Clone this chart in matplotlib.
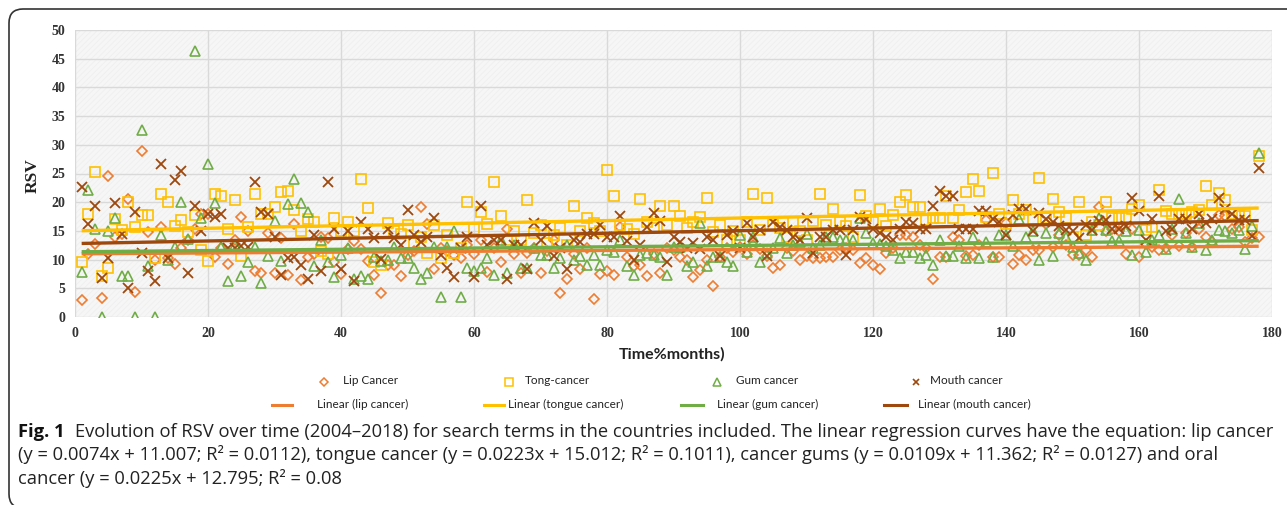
import numpy as np
import matplotlib
matplotlib.use('Agg')
import matplotlib.pyplot as plt
from matplotlib.lines import Line2D
from matplotlib.patches import FancyBboxPatch, Rectangle

# monthly RSV values (months 1..178)
months = np.arange(1, 179)

lip = [
    3.0, 11.0, 12.7, 3.3, 24.5, 14.0, 14.5, 20.6, 4.3, 29.0,
    14.8, 10.0, 15.6, 10.2, 9.2, 12.0, 13.5, 15.3, 18.0, 18.0,
    10.5, 12.0, 9.2, 13.5, 17.4, 15.0, 8.0, 7.7, 14.7, 7.6,
    13.8, 7.4, 16.2, 6.5, 10.4, 11.0, 14.0, 13.8, 9.6, 7.5,
    11.8, 13.2, 11.8, 9.7, 7.3, 4.1, 9.0, 9.1, 7.2, 10.8,
    11.5, 19.1, 16.2, 8.3, 12.0, 11.5, 10.8, 10.2, 12.5, 11.0,
    13.4, 7.9, 12.0, 9.6, 15.4, 11.0, 7.6, 11.2, 12.0, 7.6,
    11.5, 13.4, 4.2, 6.7, 11.0, 8.3, 12.0, 3.2, 7.5, 8.1,
    7.3, 15.7, 10.4, 8.8, 9.1, 7.2, 11.0, 7.6, 12.0, 11.7,
    10.4, 10.0, 7.0, 8.2, 9.9, 5.4, 10.5, 12.0, 11.4, 12.2,
    11.0, 12.5, 11.8, 10.6, 8.5, 9.1, 12.0, 11.5, 10.0, 10.6,
    10.2, 10.2, 10.5, 10.4, 11.7, 12.0, 11.6, 9.4, 10.2, 9.1,
    8.3, 11.1, 12.0, 14.3, 14.3, 13.9, 12.5, 12.0, 6.6, 10.5,
    10.5, 13.9, 13.5, 10.6, 10.8, 12.5, 16.9, 10.4, 10.4, 16.3,
    9.3, 10.8, 9.9, 11.6, 11.6, 16.2, 12.2, 14.3, 12.5, 10.8,
    10.8, 11.7, 10.4, 19.1, 15.0, 15.4, 15.0, 10.9, 15.4, 10.4,
    12.7, 12.2, 11.6, 12.0, 14.3, 12.4, 14.6, 12.2, 15.4, 13.9,
    13.1, 17.8, 17.6, 15.4, 15.7, 13.1, 13.7, 14.0]

tongue = [
    9.5, 18.0, 25.3, 7.2, 8.6, 17.0, 15.2, 20.0, 15.7, 17.8,
    17.8, 10.3, 21.5, 20.0, 15.9, 16.9, 14.8, 17.8, 11.7, 9.7,
    21.4, 21.0, 15.3, 20.3, 10.7, 15.7, 21.5, 18.0, 18.0, 19.1,
    21.8, 22.0, 18.7, 15.0, 17.0, 16.6, 11.5, 11.0, 17.3, 15.0,
    16.6, 15.0, 24.0, 19.0, 9.5, 9.1, 16.3, 15.0, 14.5, 16.0,
    12.9, 13.9, 11.1, 16.0, 10.3, 14.2, 11.1, 12.0, 20.0, 15.4,
    18.3, 16.2, 23.5, 17.6, 13.4, 15.0, 13.4, 20.3, 14.7, 16.0,
    12.9, 14.2, 15.5, 12.5, 19.3, 15.0, 17.2, 16.4, 15.0, 25.6,
    21.0, 16.0, 15.4, 14.5, 20.6, 16.5, 15.5, 19.3, 16.1, 19.4,
    17.6, 15.5, 16.6, 17.5, 20.7, 14.8, 16.0, 13.5, 15.0, 13.4,
    16.5, 21.4, 15.1, 20.7, 16.0, 15.5, 13.9, 16.5, 15.0, 13.4,
    16.8, 21.4, 16.0, 18.9, 16.6, 15.8, 14.0, 21.2, 17.6, 16.5,
    18.9, 15.8, 17.8, 20.1, 21.2, 19.1, 19.1, 16.9, 17.2, 17.2,
    21.0, 17.2, 18.6, 21.7, 24.1, 21.9, 17.4, 25.1, 18.0, 16.2,
    20.4, 18.0, 18.6, 17.0, 24.3, 17.2, 20.5, 18.3, 17.3, 13.9,
    20.1, 14.3, 16.6, 16.0, 20.1, 17.2, 17.2, 17.2, 18.8, 19.5,
    15.2, 15.6, 22.2, 18.5, 18.0, 18.0, 18.0, 18.3, 18.7, 22.8,
    19.5, 21.6, 20.3, 18.0, 17.6, 17.6, 15.2, 28.0]

gum = [
    7.8, 22.1, 15.3, 0.0, 14.9, 17.3, 7.2, 7.2, 0.0, 32.5,
    8.9, 0.0, 14.3, 10.0, 12.2, 20.0, 13.6, 46.4, 17.3, 26.7,
    19.8, 12.2, 6.2, 12.5, 7.1, 9.5, 12.2, 5.9, 10.6, 16.7,
    9.7, 19.6, 24.1, 19.9, 18.3, 8.8, 13.5, 9.6, 6.9, 10.8,
    12.1, 6.6, 7.1, 6.6, 10.5, 9.8, 10.0, 12.2, 10.2, 10.2,
    8.6, 6.6, 7.7, 12.2, 3.5, 12.2, 15.0, 3.5, 8.6, 8.0,
    8.6, 10.2, 7.3, 13.4, 7.7, 12.5, 8.6, 8.6, 12.0, 10.8,
    10.8, 8.6, 10.2, 12.5, 9.9, 10.6, 9.1, 10.8, 9.1, 11.6,
    11.4, 13.5, 8.9, 7.3, 10.8, 11.1, 10.8, 10.5, 7.3, 12.2,
    12.2, 8.9, 9.6, 16.3, 8.9, 10.5, 10.5, 9.6, 8.9, 14.2,
    11.4, 14.0, 9.5, 11.1, 12.0, 13.7, 11.1, 12.5, 13.0, 14.5,
    12.0, 12.5, 13.9, 13.9, 13.4, 13.4, 13.4, 17.2, 14.6, 12.9,
    12.7, 12.4, 11.7, 10.2, 11.4, 11.4, 10.2, 10.8, 9.1, 13.5,
    10.6, 10.6, 12.4, 10.2, 13.9, 10.2, 13.1, 10.5, 14.3, 14.3,
    12.4, 17.0, 14.0, 14.9, 9.9, 14.6, 10.6, 14.6, 13.9, 12.2,
    11.1, 9.9, 15.2, 17.2, 15.2, 13.3, 13.3, 14.9, 10.8, 15.2,
    11.4, 13.4, 14.3, 11.9, 15.3, 20.6, 14.6, 12.2, 16.4, 11.7,
    13.4, 15.2, 15.0, 14.6, 15.2, 11.9, 15.8, 28.6]

mouth = [
    22.7, 16.2, 19.3, 6.8, 10.3, 19.9, 14.4, 5.0, 18.3, 11.2,
    8.1, 6.2, 26.6, 10.2, 23.9, 25.5, 7.7, 19.3, 14.9, 18.0,
    17.4, 18.0, 12.0, 12.0, 12.4, 12.2, 23.5, 18.3, 18.0, 14.0,
    7.3, 10.3, 10.5, 9.0, 6.7, 14.3, 8.0, 23.5, 15.4, 8.4,
    15.0, 6.3, 16.6, 15.3, 13.8, 10.1, 15.3, 13.8, 12.5, 18.6,
    14.3, 13.0, 14.0, 17.2, 10.8, 8.6, 7.0, 12.0, 13.9, 7.0,
    19.3, 12.5, 13.5, 13.4, 6.6, 12.5, 12.5, 8.3, 16.4, 13.5,
    15.8, 10.6, 12.0, 8.3, 13.4, 13.1, 14.5, 14.4, 16.0, 13.9,
    14.0, 17.6, 13.3, 9.9, 12.5, 15.7, 18.1, 16.7, 9.6, 14.0,
    13.0, 12.0, 12.9, 11.8, 13.9, 13.5, 10.6, 14.3, 14.9, 12.0,
    16.3, 14.0, 15.2, 10.6, 16.6, 15.7, 15.1, 13.9, 13.5, 17.2,
    11.1, 13.9, 13.9, 15.2, 15.2, 10.8, 15.2, 17.5, 17.0, 15.3,
    14.6, 14.0, 13.5, 15.3, 16.6, 16.4, 15.3, 15.3, 19.3, 22.0,
    21.0, 21.0, 15.3, 15.3, 15.3, 18.5, 18.5, 17.0, 16.6, 14.3,
    17.8, 18.8, 18.9, 14.9, 18.1, 17.0, 16.6, 15.8, 15.2, 15.0,
    13.7, 16.0, 15.2, 16.8, 16.9, 15.3, 15.3, 15.9, 20.7, 18.4,
    13.4, 17.0, 21.0, 14.9, 15.3, 17.0, 17.0, 15.3, 18.0, 16.4,
    17.0, 20.7, 18.9, 18.0, 16.9, 16.9, 14.1, 25.9]

# regression lines as given in the caption
slopes = [0.0074, 0.0223, 0.0109, 0.0225]
intercepts = [11.007, 15.012, 11.362, 12.795]

series_names = ['Lip Cancer', 'Tong-cancer', 'Gum cancer', 'Mouth cancer']
trend_names = ['Linear (lip cancer)', 'Linear (tongue cancer)',
               'Linear (gum cancer)', 'Linear (mouth cancer)']
colors = ['#ED7D31', '#FFC000', '#70AD47', '#9E480E']
markers = ['D', 's', '^', 'x']
msizes = [5.0, 7.0, 7.5, 6.5]

W, H = 1287, 505


def fx(x):
    return x / W


def fy(y):
    return 1 - y / H


fig = plt.figure(figsize=(W / 100, H / 100), dpi=100)
ax = fig.add_axes([fx(75), fy(317), fx(1272) - fx(75), fy(30) - fy(317)])

# plot area: light grey with faint diagonal texture
ax.set_facecolor('#f6f6f6')
plt.rcParams['hatch.linewidth'] = 0.5
ax.add_patch(Rectangle((0, 0), 1, 1, transform=ax.transAxes, facecolor='none',
                       edgecolor='#eeeeee', hatch='//////', lw=0, zorder=0))

for data, m, c, s in zip([lip, tongue, gum, mouth], markers, colors, msizes):
    if m == 'x':
        ax.plot(months, data, ls='none', marker=m, color=c, ms=s, mew=1.3, zorder=3)
    else:
        ax.plot(months, data, ls='none', marker=m, mfc='none', mec=c, ms=s, mew=1.2, zorder=3)

ends = np.array([1, 178])
for k, b, c in zip(slopes, intercepts, colors):
    ax.plot(ends, k * ends + b, color=c, lw=2.4, zorder=4, solid_capstyle='butt')

ax.set_xlim(0, 180)
ax.set_ylim(0, 50)
ax.set_xticks(range(0, 181, 20))
ax.set_yticks(range(0, 51, 5))
ax.grid(True, color='#d9d9d9', lw=1.0, zorder=1)
ax.set_axisbelow(True)
ax.tick_params(length=0, pad=7)
for lab in ax.get_xticklabels() + ax.get_yticklabels():
    lab.set_fontfamily('Liberation Serif')
    lab.set_fontweight('bold')
    lab.set_fontsize(10)
    lab.set_color('#333333')
for sp in ax.spines.values():
    sp.set_visible(False)

fig.text(fx(33), fy(176), 'RSV', rotation=90, ha='center', va='center',
         family='Liberation Serif', fontweight='bold', fontsize=12.5, color='#222222')
fig.text(fx(672), fy(354), 'Time%months)', ha='center', va='center',
         family='Lato', fontweight='bold', fontsize=11.5, color='#222222')

# legend, drawn by hand in pixel positions
row1 = [(324, 343), (509, 525), (717, 736), (916, 930)]
row2 = [(272, 292, 317), (484, 504, 508), (681, 703, 717), (884, 907, 918)]
for (mx, tx), name, m, c, s in zip(row1, series_names, markers, colors, msizes):
    if m == 'x':
        fig.add_artist(Line2D([fx(mx)], [fy(382)], ls='none', marker=m, color=c,
                              ms=5, mew=1.2))
    else:
        fig.add_artist(Line2D([fx(mx)], [fy(382)], ls='none', marker=m, mfc='none',
                              mec=c, ms=s * 0.75, mew=1.1))
    fig.text(fx(tx), fy(381), name, va='center', family='Lato', fontsize=8.5,
             color='#222222')
for (x0, x1, tx), name, c in zip(row2, trend_names, colors):
    fig.add_artist(Line2D([fx(x0), fx(x1)], [fy(405), fy(405)], color=c, lw=2.2))
    fig.text(fx(tx), fy(404), name, va='center', family='Lato', fontsize=8.5,
             color='#222222')

# caption box, in pixel (display) coordinates
fig.add_artist(FancyBboxPatch((9, H - 508), 1340, 499,
                              boxstyle='round,pad=0,rounding_size=14',
                              transform=None, facecolor='none',
                              edgecolor='#333333', lw=1.2))

cap_bold = 'Fig. 1'
cap_lines = [
    'Evolution of RSV over time (2004–2018) for search terms in the countries included. '
    'The linear regression curves have the equation: lip cancer',
    '(y = 0.0074x + 11.007; R² = 0.0112), tongue cancer (y = 0.0223x + 15.012; R² = 0.1011), '
    'cancer gums (y = 0.0109x + 11.362; R² = 0.0127) and oral',
    'cancer (y = 0.0225x + 12.795; R² = 0.08',
]
cap_y = [432, 455, 478]
cap_font = 'Open Sans'

fig.canvas.draw()
r = fig.canvas.get_renderer()
fs = 12
tb = fig.text(fx(18), fy(cap_y[0]), cap_bold, family=cap_font, fontweight='bold',
              fontsize=fs, va='center', color='#111111')
tr = fig.text(fx(18), fy(cap_y[0]), cap_lines[0], family=cap_font, fontsize=fs,
              va='center', color='#222222')
wb = tb.get_window_extent(r).width
wr = tr.get_window_extent(r).width
gap = 10
fs = fs * (1271 - 18 - gap) / (wb + wr)
tb.set_fontsize(fs)
tr.set_fontsize(fs)
wb = tb.get_window_extent(r).width
tr.set_x(fx(18 + wb + gap))
for txt, yy in zip(cap_lines[1:], cap_y[1:]):
    fig.text(fx(18), fy(yy), txt, family=cap_font, fontsize=fs, va='center',
             color='#222222')

fig.savefig('out.png', dpi=100)
